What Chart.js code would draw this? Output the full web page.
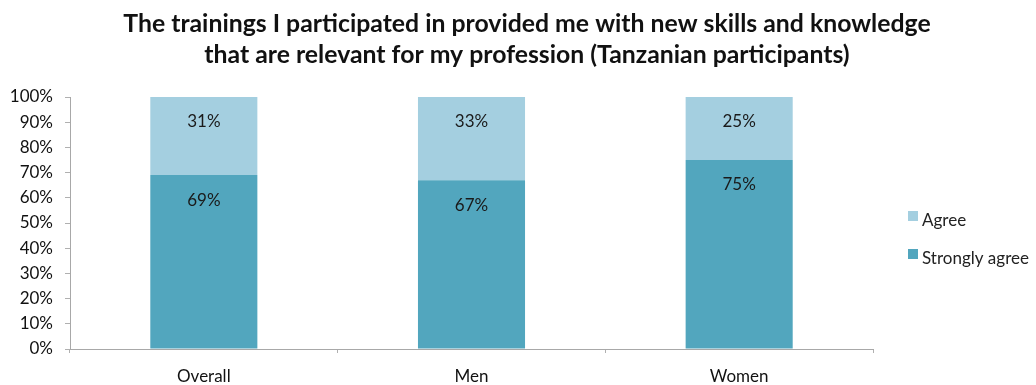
<!DOCTYPE html>
<html>
<head>
<meta charset="utf-8">
<script src="https://cdn.jsdelivr.net/npm/chart.js@4/dist/chart.umd.min.js"></script>
<style>
  html, body { margin: 0; padding: 0; background: #fff; }
  #wrap { width: 1036px; height: 385px; }
</style>
</head>
<body>
<div id="wrap"><canvas id="c"></canvas></div>
<script>
const categories = ['Overall', 'Men', 'Women'];
const stronglyAgree = [69, 67, 75];
const agree = [31, 33, 25];
const yTicks = [0, 10, 20, 30, 40, 50, 60, 70, 80, 90, 100];
const titleLines = [
  'The trainings I participated in provided me with new skills and knowledge',
  'that are relevant for my profession (Tanzanian participants)'
];

const FONT = 'Lato, "Open Sans", sans-serif';

// Two-line bold heading centred over the whole figure
const heading = {
  id: 'heading',
  afterDraw(chart) {
    const ctx = chart.ctx;
    ctx.save();
    ctx.font = 'bold 24.8px ' + FONT;
    ctx.fillStyle = '#111';
    ctx.textAlign = 'center';
    ctx.textBaseline = 'middle';
    titleLines.forEach((line, i) => ctx.fillText(line, 527, 24 + i * 31));
    ctx.restore();
  }
};

// Percent labels written near the top of every bar segment
const segmentLabels = {
  id: 'segmentLabels',
  afterDatasetsDraw(chart) {
    const ctx = chart.ctx;
    ctx.save();
    ctx.font = '17px ' + FONT;
    ctx.fillStyle = '#1a1a1a';
    ctx.textAlign = 'center';
    ctx.textBaseline = 'middle';
    chart.data.datasets.forEach((ds, i) => {
      chart.getDatasetMeta(i).data.forEach((bar, j) => {
        ctx.fillText(ds.data[j] + '%', bar.x, bar.y + 25);
      });
    });
    ctx.restore();
  }
};

// Vertical legend to the right of the plot, top series first
const sideLegend = {
  id: 'sideLegend',
  afterDraw(chart) {
    const ctx = chart.ctx;
    const x = chart.chartArea.right + 35;
    const rowGap = 38;
    const y0 = 221;
    ctx.save();
    ctx.font = '17px ' + FONT;
    ctx.textBaseline = 'middle';
    ctx.textAlign = 'left';
    const items = chart.data.datasets.slice().reverse();
    items.forEach((ds, k) => {
      const cy = y0 + k * rowGap;
      ctx.fillStyle = ds.backgroundColor;
      ctx.fillRect(x, cy - 10, 10, 10);
      ctx.fillStyle = '#222';
      ctx.fillText(ds.label, x + 14, cy);
    });
    ctx.restore();
  }
};

new Chart(document.getElementById('c'), {
  type: 'bar',
  data: {
    labels: categories,
    datasets: [
      { label: 'Strongly agree', data: stronglyAgree, backgroundColor: '#52a6be' },
      { label: 'Agree', data: agree, backgroundColor: '#a4cfe0' }
    ]
  },
  options: {
    responsive: true,
    maintainAspectRatio: false,
    animation: false,
    layout: { padding: { top: 97, right: 163, left: 0, bottom: 0 } },
    datasets: { bar: { categoryPercentage: 1, barPercentage: 0.4 } },
    plugins: {
      legend: { display: false },
      tooltip: { enabled: false }
    },
    scales: {
      x: {
        stacked: true,
        afterFit(axis) { axis.height = 36; },
        grid: { display: true, drawOnChartArea: false, drawTicks: true, tickLength: 4, color: '#b0b0b0', offset: true },
        border: { color: '#a8a8a8' },
        ticks: { color: '#111', font: { family: FONT, size: 17 }, padding: 13 }
      },
      y: {
        stacked: true,
        min: 0,
        max: 100,
        afterFit(axis) { axis.width = 70; },
        afterBuildTicks(axis) { axis.ticks = yTicks.map(v => ({ value: v })); },
        grid: { display: true, drawOnChartArea: false, drawTicks: true, tickLength: 5, color: '#b0b0b0' },
        border: { color: '#a8a8a8' },
        ticks: { color: '#111', font: { family: FONT, size: 17 }, padding: 12, callback: v => v + '%' }
      }
    }
  },
  plugins: [segmentLabels, sideLegend, heading]
});
</script>
</body>
</html>
